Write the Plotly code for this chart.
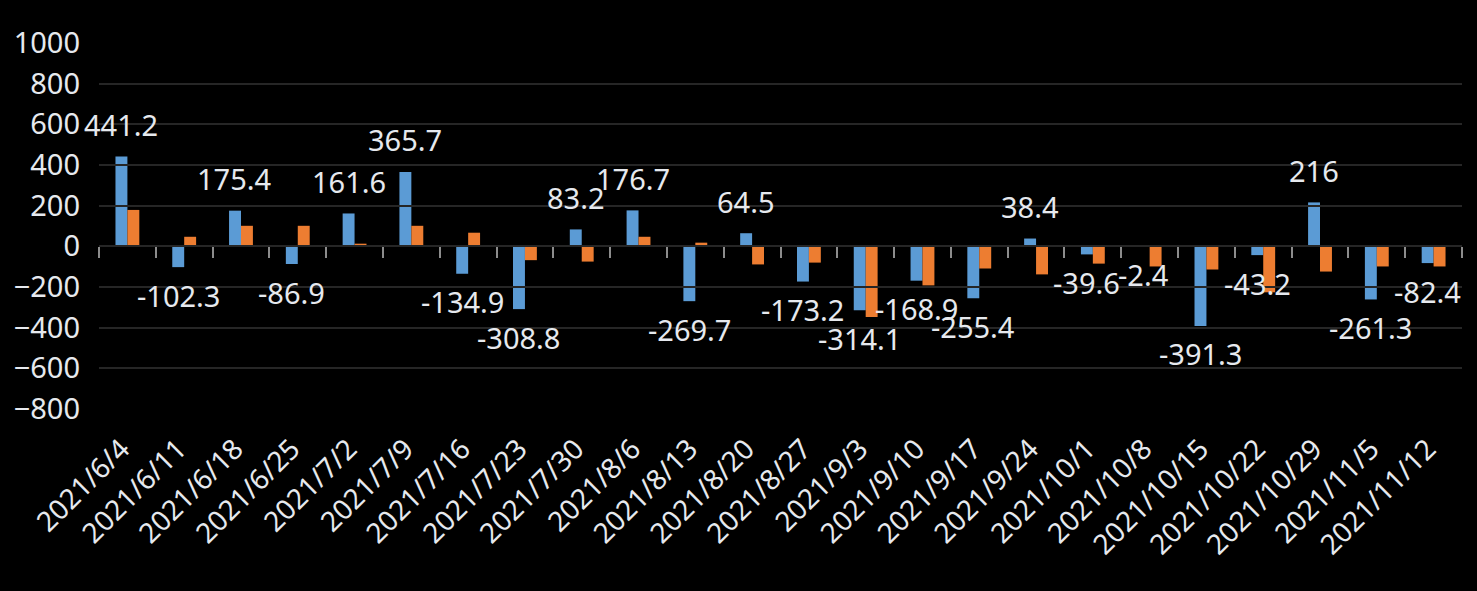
import plotly.graph_objects as go

categories = ["2021/6/4", "2021/6/11", "2021/6/18", "2021/6/25", "2021/7/2", "2021/7/9",
              "2021/7/16", "2021/7/23", "2021/7/30", "2021/8/6", "2021/8/13", "2021/8/20",
              "2021/8/27", "2021/9/3", "2021/9/10", "2021/9/17", "2021/9/24", "2021/10/1",
              "2021/10/8", "2021/10/15", "2021/10/22", "2021/10/29", "2021/11/5", "2021/11/12"]

blue_values = [441.2, -102.3, 175.4, -86.9, 161.6, 365.7, -134.9, -308.8, 83.2, 176.7,
               -269.7, 64.5, -173.2, -314.1, -168.9, -255.4, 38.4, -39.6, -2.4, -391.3,
               -43.2, 216, -261.3, -82.4]
orange_values = [179, 47, 101, 101, 13, 101, 67, -68, -75, 47, 18, -89, -80, -348, -192,
                 -109, -138, -85, -99, -114, -226, -124, -99, -99]

y_ticks = [-800, -600, -400, -200, 0, 200, 400, 600, 800, 1000]

W, H = 1477, 591
FONT = "Noto Sans"
TXT = "#e6e9ee"
n = len(categories)
x_range = [-0.5, n - 0.5]
x_domain = [99 / W, 1462 / W]

fig = go.Figure()
fig.add_trace(go.Bar(x=categories, y=blue_values, marker=dict(color="#5b9bd5", line_width=0),
                     xaxis="x", yaxis="y", showlegend=False, hoverinfo="skip"))
fig.add_trace(go.Bar(x=categories, y=orange_values, marker=dict(color="#ed7d31", line_width=0),
                     xaxis="x", yaxis="y", showlegend=False, hoverinfo="skip"))
# invisible trace carrying the category tick labels along the bottom
fig.add_trace(go.Scatter(x=categories, y=blue_values, mode="markers", marker=dict(opacity=0),
                         xaxis="x2", yaxis="y", showlegend=False, hoverinfo="skip"))

annotations = []
for c, v in zip(categories, blue_values):
    annotations.append(dict(x=c, y=v, xref="x", yref="y", text=f"{v:g}", showarrow=False,
                            xshift=-6, yshift=32 if v >= 0 else -28, yanchor="middle",
                            font=dict(family=FONT, size=29, color=TXT)))

ymin, ymax = -800, 1000
fig.update_layout(
    width=W, height=H,
    paper_bgcolor="black", plot_bgcolor="rgba(0,0,0,0)",
    margin=dict(l=0, r=0, t=43, b=182),
    barmode="group", bargap=0.58, bargroupgap=0,
    annotations=annotations,
    xaxis=dict(domain=x_domain, range=x_range, anchor="free",
               position=(0 - ymin) / (ymax - ymin),
               showticklabels=False, showgrid=False, zeroline=False,
               showline=True, linecolor="#8c8c8c", linewidth=2,
               ticks="outside", tickson="boundaries", ticklen=11, tickwidth=2,
               tickcolor="#8c8c8c", automargin=False),
    xaxis2=dict(domain=x_domain, range=x_range, anchor="y", showgrid=False,
                zeroline=False, showline=False, ticks="", tickangle=-45,
                tickfont=dict(family=FONT, size=28, color=TXT), ticklabelstandoff=17,
                ticklabelshift=-6, automargin=False),
    yaxis=dict(range=[ymin, ymax], domain=[0, 1], anchor="x", tickvals=y_ticks,
               showgrid=True, gridcolor="#262626", gridwidth=2, zeroline=False,
               showline=False, ticks="", automargin=False, ticklabelstandoff=18,
               tickfont=dict(family=FONT, size=29, color=TXT)),
)

fig.write_html("out.html", config={"displayModeBar": False},
               post_script="document.body.style.margin='0';")
